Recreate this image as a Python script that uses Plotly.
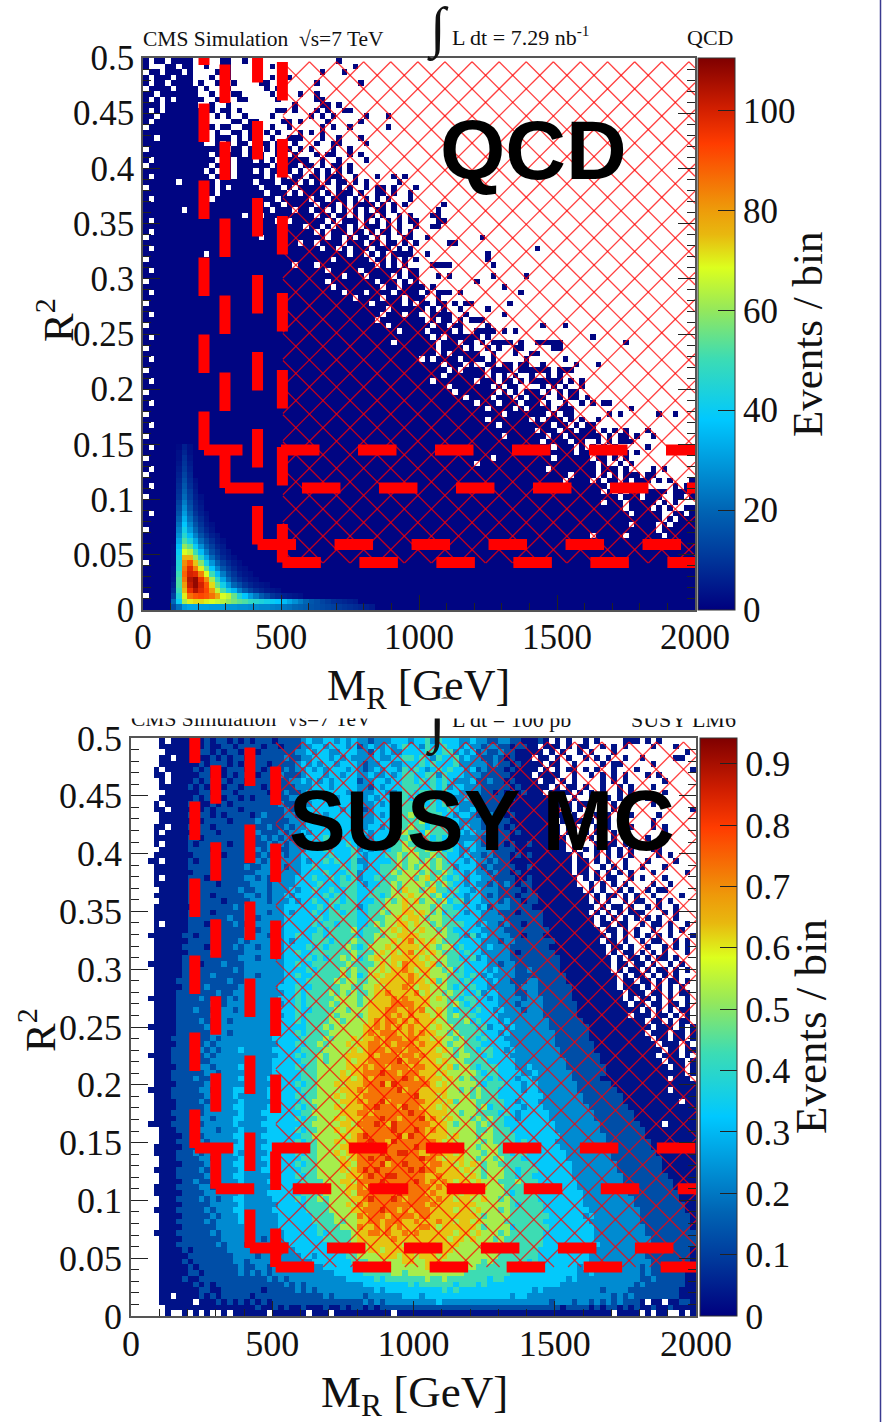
import plotly.graph_objects as go

W, H = 882, 1422
mr_ticks = [0, 500, 1000, 1500, 2000]
r2_ticks = [0, 0.05, 0.1, 0.15, 0.2, 0.25, 0.3, 0.35, 0.4, 0.45, 0.5]
r2_labels = ["0", "0.05", "0.1", "0.15", "0.2", "0.25", "0.3", "0.35", "0.4", "0.45", "0.5"]
qcd_bar_ticks = [0, 20, 40, 60, 80, 100]
susy_bar_ticks = [0, 0.1, 0.2, 0.3, 0.4, 0.5, 0.6, 0.7, 0.8, 0.9]
susy_bar_labels = ["0", "0.1", "0.2", "0.3", "0.4", "0.5", "0.6", "0.7", "0.8", "0.9"]

# QCD occupancy, top row first (R2 0.5 down to 0), 100 MR bins, spaces only group the bins: '#' low count, '.' empty
qcd_rows = """
#.##.####. ....##..#. .......... .....#....
#...##.##. .#..##.... ...#...... ........#.
.##.###.#. ...###.... .....#.... ..#...#...
#.###.###. ..#.##.... ...#..#... ..........
#.##.####. #..#..#... .##....... .#.......#
.####.#### .#...#.... ..#.##.... ..........
##.####### ..#.#.##.. ...#....#. .#........
#.#.#.#### #..##..##. ....#..... .##.......
###.###### ..#..#.... .......#.. ..##.#....
#.#.###### #.#.##.#.. ....##.#.. .#.#..##..
##.####### #..#.#..#. ...#...... #.#.#..... #...#
#.######## #.....##.# #....##.#. ...#.....#
.######### #.#.##..## ...#..#... ..#.#..#.. ....#
########## ##.#..##.# ..#.#...#. #.#.......
##.####### ##.###.#.# #..#..###. ..#..#...#
########## #..#.#.##. .##.#..#.. .#..##.... #
.######### #####.##.# #.#.###.#. #...#..#..
########## ##.#.###.# ##..##.#.. .#.##..#.#
#.######## ###.##.### .#.#..#### ..#..#....#
.######### ##.#.#.### ###.#.##.# #.#.##.#..
########## #.#.##.### .#.##.#.#. .#.#.#.#..
#.######## ##.###.### ##.#.#.##. ##.###..#. ..#..#.#..
######.### ###.###### .###.###.# .#.#.##.#. #.....#...
.######### ###.#.#### #.###.#.## ###..#.#.. #.##.#...#
########## ###.###### ##.###.#.# ##.#.###.# ..##.#..#.
#.######## ##.####### ####.##### .##.###.#. #.#.#...#.
########## ########## ##.##.#### #.###.#.## ##.#.#.#.. ....#
#######.## ########## ###.###.## .##.#.#.#. #.##.#.... ...#......
########## ########.# #.######## #.##.##.#. ##.#..#.#. ..##......
#.######## ########## ####.#.### ###.#.###. #.#.#.#.## ...##.....
########## ####.##### #########. ##.#.##.#. ###.#.#..# ..##......
#.######## ########## ########## #.#.###.## .#.##.#.#. ..........
.######### ########## #.######## ###.##.#.# #.#.#..##. .#........ .#........
########## ########## ########.# #.####.### .##.##.#.# .....##...
#.######## ########## ########## ##.##.#.## #.###.#.#. .......... .......... .#........
########## #.######## ########## #######.## .#.#.####. .#........ ..#.......
.######### ########## ########## ####.##### #.##.#.#.# .......... ..#.......
########## ########## #######.## #.######## ##.#.#.#.. ..####.... ...#......
#.######## ########## ########## ###.#####. #######.## .......... ..........
########## ########## ########## ######.### .####.#.## ...#.#.... ...#.....#
.######### ########## ########## ###.###### ##.###.#.# .......... #.........
########## ########## ########## ####.##### ###.##.### #.#....... .....#....
#.######## ########## ########## ######.### .####.#### .#.###.#.. ........#.
########## ########## ########## ########.# ###.###.## #..#...... ..........
.######### ########## ########## ########## #.#####.#. ##.##.#.## ......#...
########## ########## ########## ########## ####.##### #.#.#..#.. ..#.......
#.######## ########## ########## ########## ###.###.## ..####..#. .....#....
########## ########## ########## ########## ##.####### #.#.##.#.# ##........
.######### ########## ########## ########## ####.##### ##.##.##.. ..#....... ..#...#...
########## ########## ########## ########## ######.### #.####.#.. ####.#.#.. ..........
#.######## ########## ########## ########## ########## ##.#.##### #.#....... .......... .#........
########## ########## ########## ########## #####.#### ###.###.## .#.####.#. .#####.... .......#..
.######### ########## ########## ########## ########## ###.####.# ..#.#..##. ....##....
########## ########## ########## ########## ########## ###.#.#### #..#...#.. ##........
#.######## ########## ########## ########## ########## .#.####.## ##.#.....# ......#...
########## ########## ########## ########## ########## ####.###.# ..##.##.## ..#.....#. ..#.......
.######### ########## ########## ########## ########## #####.#.## ##.####.## ####.###..
########## ########## ########## ########## ########## ####.##### ##.#.#.#.. #..#.#....
#.######## ########## ########## ########## ########## ##.####### .###.##.#. ######.#.#
########## ########## ########## ########## ########## #####.#### ###.#.##.. ..#.#.#..#
.######### ########## ########## ########## ########## ######.### ####.#.#.# ##.#.#.##.
########## ########## ########## ########## ########## ########.# ###.###.#. ###..#.##. #
#.######## ########## ########## ########## ########## ########## .###.###.# ##.#..#..# .#.##.....
########## ########## ########## ########## ########## ########## ##.####.#. ####.###.. ........#.
.######### ########## ########## ########## ########## ########## #####.#### ###.#.##.. ....#.#... ...#..#...
########## ########## ########## ########## ########## ########## ##.####### .#.###.#.# ..#.......
#.######## ########## ########## ########## ########## ########## ####.##### ####.##.#. ##........
########## ########## ########## ########## ########## ########## ########## #.###.##.# ##.#.#.#.. .#........
.######### ########## ########## ########## ########## ########## #####.#### ###.##.### ###.#.##.# ..#.......
########## ########## ########## ########## ########## ########## ########## ##.####.## ..#.#.###.
#.######## ########## ########## ########## ########## ########## ########## ####.###.# .#.#.#.... .#........
########## ########## ########## ########## ########## ########## ########## ########.# ####.#.#.#
.######### ########## ########## ########## ########## ########## ###.###### ####.##### #.##.#.#..
########## ########## ########## ########## ########## ########## .######### ########## ##.#..#.#.
#.######## ########## ########## ########## ########## ########## ########## ###.###### ##.###.#.. ..#.#.....
.######### ########## ########## ########## ########## ########## ########## #######.## ##.#.#.### .##.......
########## ########## ########## ########## ########## ########## ########## ######.### #.#.##.#.# ##.#.#...#
#.######## ########## ########## ########## ########## ########## ########## ########## ####.#.### #.....#.##
########## ########## ########## ########## ########## ########## ########## ########## ###.#.#.## .####.####
.######### ########## ########## ########## ########## ########## ########## ########## ######.### .###..##.#
########## ########## ########## ########## ########## ########## ########## ########## ###.###.## ###.#.#...
########## ########## ########## ########## ########## ########## ########## ########## #######.## ##.#.#..##
#.######## ########## ########## ########## ########## ########## ########## ########## ########.# ####..##.#
########## ########## ########## ########## ########## ########## ########## ########## ########## ####.#.###
########## ########## ########## ########## ########## ########## ########## ########## ########.# ###.#.####
.######### ########## ########## ########## ########## ########## ########## ########## ########## ###.######
########## ########## ########## ########## ########## ########## ########## ########## #.#####.## ####.#####
########## ########## ########## ########## ########## ########## ########## ########## ########## ##########
########## ########## ########## ########## ########## ########## ########## ########## ########## ##########
########## ########## ########## ########## ########## ########## ########## ########## ########## ##########
########## ########## ########## ########## ########## ########## ########## ########## ########## ##########
.######### ########## ########## ########## ########## ########## ########## ########## ########## ##########
########## ########## ########## ########## ########## ########## ########## ########## ########## ##########
########## ########## ########## ########## ########## ########## ########## ########## ########## ##########
########## ########## ########## ########## ########## ########## ########## ########## ########## ##########
########## ########## ########## ########## ########## ########## ########## ########## ########## ##########
########## ########## ########## ########## ########## ########## ########## ########## ########## ##########
.######### ########## ########## ########## ########## ########## ########## ########## ########## ##########
########## ########## ########## ########## ########## ########## ########## ########## ########## ##########
########## ########## ########## ########## ########## ########## ########## ########## ########## ##########
""".strip().splitlines()

# QCD events per bin in the bright corner: row = R2 bin from 0 upward, first value = MR bin 5
qcd_peak_rows = [
    [14, 22, 30, 32, 32, 31, 31, 30, 30, 30, 29, 29, 28, 28, 27, 27, 26, 26, 25, 24, 23, 22, 20, 19, 18, 16, 15, 14, 13, 12, 11, 10, 9, 8, 7, 6, 5],
    [20, 40, 62, 70, 72, 72, 70, 68, 66, 64, 60, 57, 54, 52, 48, 46, 44, 42, 40, 38, 36, 32, 28, 24, 20, 17, 15, 13, 11, 9, 8, 7, 6, 5],
    [12, 45, 70, 86, 90, 92, 90, 86, 78, 68, 65, 55, 45, 38, 30, 24, 18, 14, 10, 8, 6, 5, 4, 3],
    [8, 50, 75, 96, 104, 98, 92, 80, 65, 52, 42, 35, 25, 18, 13, 9, 7, 5, 4, 3],
    [6, 52, 80, 102, 108, 100, 90, 72, 55, 42, 30, 20, 15, 10, 7, 5, 4, 3],
    [4, 52, 85, 104, 108, 96, 82, 62, 47, 32, 21, 13, 9, 6, 4, 3],
    [3, 50, 88, 100, 98, 84, 68, 50, 36, 24, 15, 10, 6, 4, 3],
    [3, 46, 85, 98, 84, 70, 54, 38, 26, 17, 11, 7, 4, 3],
    [2, 45, 82, 90, 74, 58, 42, 29, 19, 12, 8, 5, 3],
    [2, 42, 76, 76, 60, 46, 32, 21, 13, 8, 5, 3],
    [2, 40, 68, 64, 50, 36, 24, 15, 10, 6, 4],
    [2, 36, 60, 54, 40, 28, 18, 12, 7, 5],
    [1, 32, 52, 44, 32, 21, 14, 9, 5, 3],
    [1, 28, 46, 36, 25, 16, 10, 6, 4],
    [1, 25, 42, 30, 20, 12, 7, 4],
    [1, 22, 38, 26, 16, 10, 5, 3],
    [1, 19, 34, 22, 13, 8, 4],
    [1, 16, 30, 19, 10, 6, 3],
    [1, 14, 27, 16, 8, 5],
    [1, 12, 24, 14, 7, 4],
    [1, 10, 21, 12, 6, 3],
    [1, 9, 19, 11, 5],
    [1, 8, 17, 9, 4],
    [1, 7, 15, 8, 3],
    [1, 6, 13, 7],
    [1, 5, 11, 6],
    [1, 4, 10, 5],
    [1, 3, 9, 4],
    [1, 3, 7, 3],
    [1, 2, 6, 3],
]

# SUSY events per bin in tenths (digit d reads as d/10 + 0.03), top row first; '.' empty. 10 groups of 10 MR bins.
susy_rows = """
.....0.000 0001011010 1011101111 2322332323 2212223332 3342433322 3221122110 0010.0.0.. 0.0....000 .0.0......
.....00000 0101001101 1110110111 2233233323 1232232343 3243343323 2212211011 00.000.0.0 0..0.0.0.. ..0...0...
......0000 0011010110 1101111112 2323322333 2213232233 3344344232 3121121100 000.0.0..0 .0...0.... ........0.
.....00.00 0100101011 0111111211 2233323232 2223223344 3432433423 2211210100 0.00.0.0.. 0.0.0..0.. 0.....00..
.....00000 0010111010 1111011112 3232332333 2122332233 3434333422 2221211010 000.00..0. ...0.00... ..0.......
....0.0000 0101010111 0110111212 2323233323 2123233243 4323434332 3121110100 00.0.0.00. 0.0..0...0 .........0
....00.000 0011010101 1101112111 2333233233 2232232344 3344243332 2211111000 0.0000..0. .0.0.0.0.. .0.0......
.....0.000 0101101011 0111111122 3232323333 1223323344 3434343222 3112110100 00.00.0.0. ...0.0.0.. ....0.....
.....00000 1010110110 1110111112 2233323333 2213233344 4334342332 2211111010 0000.0.00. 0..0..0.0. ..0.......
......0000 0011011101 1111011211 2323333323 2223322344 3444343322 2211010101 000.0000.0 .0.0..0.0. ....0.....
.....00000 0101110110 1011111122 2333232333 1232333443 4344343223 2111110100 0000.00.0. .0..0.0.0. .0........
....0.0000 1100101011 1111112112 3233323334 2223233344 4434343322 2211111000 0000.000.0 0..0.0.... ..0.0.....
....00.000 0101011110 1111111212 2333333233 2123333444 3544334322 3121101000 000000.0.0 .0.0.0.0.. .........0
.....00000 1011010111 1012111221 3233233334 2223234345 4344433233 2112110100 0000.00.0. ..0.0.0.0. ...0......
.....00000 0101111011 1121111122 2333333333 2223333444 4534343322 2211111000 00000.0.00 .0..0.0... ..0.......
....00.000 1011011111 1111211212 2333323334 2233234445 4434443323 2212110100 000000.00. 0.0.0...0. ..0.0.....
....0.0000 0111101111 1121112122 3233333334 2323333454 4354443332 3221111010 000000.00. 0.0..0.0.. ....0.....
....000000 1101111111 1112121212 2333433333 2223334445 5443434322 2212111000 0000000.0. .0.0.0.0.. .0..0.....
....0.0000 1011111011 1211212122 3333333343 2233344454 4544443323 3212110100 1000000.00 ..0.00.0.. ..0.......
.....00000 1111011111 1121221122 2333433334 2323334455 4454534322 3222111100 0000000.0. 0.0.0.0.0. ..00......
....000000 0111110111 1212122122 3333343334 3233344545 5445443323 2212111010 10000000.0 ..0.0.0.0. ...0.0....
...00.0000 1011111111 1121212222 3233434334 2233334545 5454543332 3221211000 00000000.0 0.0.0..0.. .0....0...
....000000 1111101111 2112222122 3343333434 3233444545 4554544233 3212111100 10000000.0 0..0.0.0.. 0...0.....
....000000 0111111111 1122212222 3333433344 2333445455 5454454332 3221211010 00000000.0 0.0.0.0.0. ..0.....0.
....0.0000 1110111111 2212122223 3343343434 2334344555 4564543432 3322111100 100000000. 0.0.00..0. 0...0.....
....000000 1111101111 1222122223 3334333444 3233445455 5545454332 3221212101 100000000. .0.0.0.0.. ..0..0....
.....00000 1011111112 1122122232 3343343344 3334445465 5456443433 2322211110 1000000000 .0.0..0.0. .0.00.....
....000000 1111011111 2212122323 3333434344 3344345556 5554534332 3321211101 1100000000 0.0.00.0.0 ..0....0..
.....00000 1111110111 1222122232 3343344344 3334454565 6455453442 3322212110 1100000000 0.0.0..0.0 0..0.0....
....000000 0111111121 2122222333 3334343444 2344455565 5554544333 3231222111 1000000000 00.0.00.0. .0.0..0...
....000000 1111011111 2222122323 3343344344 3344545566 5654534432 3322211101 1110000000 0.0.0.0.00 0...0.0...
....000000 1111111211 2212222333 3334344444 3344455656 6545544333 3322221111 1110000000 00.0.0.0.0 .0.0..0...
....0.0000 1110111121 1222222333 3343443444 3345455665 6554544443 3232212110 1110000000 00.00.00.. 0.00.0..0.
....000000 1111111111 2212222333 3334344445 3444556565 5655454333 3322221111 1111000000 000.00.0.0 ..0..0.0..
...0000001 1011121111 2222122334 3344344444 3445455666 6555554432 4232222110 1110000000 0000.0.0.0 .0.0.0...0
....000000 1111111112 1222222323 3344434445 4445556567 5656544433 3322212211 1111100000 000.00.0.. 0.00..0.0.
....000001 1110111121 2212222333 3434344454 3455565666 6565455343 3323222111 1111000000 0000.00.0. .0..0.0.0.
....000000 1111211111 2222222334 3344444445 4445656567 5656544434 3322222101 1111100000 0000.0.00. 0.0.0...0.
....000001 1111111112 2212222333 3434344545 3456556666 6565554433 4232222111 1111110000 00000.0.00 .0.00.0...
...0000001 1101112111 2222222334 3344444454 4445656576 6656454443 3332212211 1111110000 00000.00.0 0.0..0.0..
....000001 1111111121 2222222333 3434444545 4455656676 5665545343 3332322211 2111110000 00000.0.00 .0.00.0.0.
....000001 1111211111 2212222334 3344444545 3456566667 6565554443 4323222211 1111111000 000000.0.0 0.0.0.0...
....000011 1111111211 2222222333 3444445455 4455666667 6656454434 3332322111 2211111000 000000.00. 00.0.00.0.
....000001 1112111112 2222223334 3344444554 4556566676 5665554343 4332222212 2211111100 000000.000 .0.0.0.0..
....000011 1111121122 2222222334 3444454545 4456676666 7565545443 3423322211 2211111100 0000000.00 0.00.0.00.
...0000011 1121111212 2222223334 3444445555 4556667676 6665654434 4332322221 2221111100 0000000.0. 00.0.0..0.
....000011 1111211222 2222222334 3444454555 4566667777 6665554543 4333322212 2221111110 00000000.0 0.00.00.0.
....000011 1211112212 2222223334 3344445545 5566677667 6755654344 3433232221 2221111110 0000000000 .0.0.0.00.
....000011 1111212222 2222222334 3444454555 4566676767 6665654544 4333322222 2221111110 00000000.0 00.00.0.0.
....000011 1121122122 2222233334 3444455455 5567677676 7666554445 3433323222 2222111111 0000000000 0.00.0.00.
...0000011 1112112222 2222223333 3444545555 5667676767 6665655444 4342332322 2222111111 1000000000 00.000.0.0
....000011 1111222122 2222223334 3444455555 5676777667 6766554544 4433323222 2222211111 1000000000 0.000.00.0
....000111 1211212222 2222233333 4444545556 5667677767 7665655454 4343332222 2222211111 1000000000 00.00.00.0
....000011 1112122222 2222223334 3445455565 6677676777 6766654554 4433333222 2222211111 1100000000 000.000.0.
....000111 1121212223 2222233333 4444555556 5677767767 7666565454 4344332322 2222221111 1100000000 0000.00.00
...0000111 1112122222 2222223334 3445455566 6676777677 6766655455 4434333222 2222221111 1110000000 000.000.0.
....000111 1211222222 2222233333 4445455565 6677777867 7666565554 4443333322 2222222111 1110000000 0000.000.0
....000011 1122122223 2222233334 3445555566 6767767776 7766656455 4344433322 3222222111 1111000000 00000.00.0
....000111 1112212222 2222233333 4445555656 6777877677 7666565555 5434433332 2322222211 1111000000 00000000.0
....000111 1211222223 2222333333 4445555665 6767777787 6766656545 4443433323 3222222211 1110000000 00000.000.
....000011 1112222222 2222233334 3445556566 6777868777 7776565555 5434443332 3322222221 1111100000 0000000000
...0000111 1122122233 2222333333 4445555666 7677777867 7666665545 4544433332 3322222221 1111110000 00000.0000
....000111 1112222232 2222333334 3445556566 6777777777 8666565555 4544433333 3332222222 1111111000 0000000000
....000011 1121222223 2222233333 4455555666 7677867777 7766656455 5444443323 3322222222 1111111000 0000000.00
....000011 1112222233 2222333334 3445556566 6778777687 7666565555 5453443332 3332222222 2111111100 0000000000
....000111 1212222223 2223333333 4455555666 7767777778 7766665545 5444434323 3333222222 2211111110 0000000000
....000011 1122122233 2222333334 3445556566 6777877677 7867656555 4545443323 3333222222 2211111110 0000000000
...0000111 1112222232 2223333333 4455555665 7778768777 7776665455 5454443333 3333322222 2221111111 0000.00000
.....00011 1122212223 2222333334 3445556566 6777778777 8767665555 5445444333 3333322222 2221111111 1000000000
.....00001 1112222233 2223333333 4455555656 7877777868 7766665655 5455444433 3333332222 2222111111 1000000000
.....00011 1121222223 2222333334 3445556566 7787768777 7777656555 5545444434 3333322222 2222111111 1100000000
....000001 1112222233 2223333333 4445555665 6778877777 8776665665 5455544443 3333332222 2222211111 1100000000
....000011 1212222232 2222333334 3445556566 7777877887 7667766565 5545544344 3333333222 2222211111 1110000000
.....00011 1122122223 2223333333 4445555656 7787787777 7877656665 5455454443 3333333222 2222211111 1111000000
.....00001 1112222233 2222333334 3445555665 7777867787 7767766565 6545544444 4333333322 2222221111 1111000000
....000011 1121222223 2223333333 4445555656 7878777778 7877666656 5545554434 4433333322 2222221111 1111000000
.....00011 1112222233 2222233334 3445555566 6787788777 7766766665 6545554434 4333333322 2222222111 1111100000
.....00001 1211222223 2222333333 4444555665 7777877777 8767676566 5655544454 4433333332 2222222111 1111110000
....000011 1122122233 2222233334 3445455566 7687787877 7776766665 5565554444 4433333332 2222222211 1111110000
....000001 1112222223 2222333333 4444555565 7777777877 7767666656 6555554344 4433333333 2222222211 1111111000
.....00011 1121212233 2222233334 3445455556 6787778767 7776766566 5565545444 4433333333 2222222221 1111111000
.....00001 1111222223 2222223333 3444455565 7677777777 7767666666 6555555434 4443333333 2222222221 1111111100
....000011 1112122233 2222233333 3444455556 6777877676 7776666566 5655545444 4443333333 3222222222 1111111100
.....00001 1111212223 2222223333 3344445555 7677767777 6776666666 6545555444 4444333333 2322222222 1111111110
.....00011 1112122223 2122223333 3344445455 6677677766 7666766566 5655554444 4443333333 3222222222 1111111110
.....00001 1111122222 2222223333 3334444555 7667676766 6776566666 6545555344 4444333333 3322222222 2111111110
....000011 1111212222 2122222333 3334344445 6677676676 7666666566 5655545444 4443333333 3322222222 2111111111
.....00001 1111112222 2221222333 3333444445 6666667666 6666665665 6555454444 4443333333 3322222222 2211111111
.....00011 1111121222 1222222233 3333344445 6566666656 6666566655 5565554444 4443333333 3332222222 2211111111
.....00001 0111111222 2122222223 3333334444 5566566666 6656666555 5555454444 4433333333 3322222222 2111111110
.....00000 1111111122 2212222222 3323333344 5555666566 5666565555 5555544444 4433333333 3222222222 2111111110
.....00001 0111111122 1222212222 2233333334 4455555566 5566655555 5545444444 3433333333 3222222222 2211111110
.....00000 1011111112 1122122222 2222333333 4444555555 5565555555 5444444443 3433333332 3222222222 1211111100
.....00000 1101111112 1212122222 2222223333 3444445545 5555555554 4444444333 3333333332 2322222222 1211111100
.....00001 0011111111 1111212122 2222222233 3334344444 4454454444 4443443333 3333333232 2222222222 1121111100
.....00000 0101011111 1111111212 1222222222 2333333334 3444444344 4343333333 3333332222 2222222221 2111111100
.....00000 0011001111 1110111112 1212222222 2223233333 3333343433 3333333333 3232222222 2221222211 1111111000
.....00.00 0010101111 1011111111 1111212222 2122222233 3233333333 3333333233 2222222222 2222212121 1111111000
.....00000 0.00010101 0101011111 1111111111 1212122222 2222322222 2222222222 2222122212 2121212111 0.00.00110
......0000 0000000000 0010010100 1000100101 1010111111 1111111111 1111111111 1111110111 1010110101 0010010000
......0..0 .0.0..0.00 0000.00000 0.000.0000 000000.000 0000000000 0000000000 0000000000 00000.0000 .0.00..0.0
""".strip().splitlines()

qcd_boxes = [(221, 0.145), (297, 0.1105), (415, 0.0593), (505, 0.043)]
susy_boxes = [(226, 0.1453), (300, 0.110), (421, 0.0588), (512, 0.0424)]

rainbow = [[0, "#00007f"], [0.1, "#003a9c"], [0.18, "#0064b4"], [0.345, "#00c8ff"], [0.455, "#3cdcb4"],
           [0.545, "#96e85a"], [0.62, "#dcff1e"], [0.68, "#e8b80f"], [0.727, "#ee9a0a"], [0.845, "#ff3c00"],
           [0.91, "#d01e00"], [1, "#7f0000"]]
SERIF = "Liberation Serif"

def px(x): return x / W
def py(y): return 1 - y / H

def parse(rows):
    return [r.replace(" ", "").ljust(100, ".")[:100] for r in rows]

qcd_z = [[None if c == "." else 1 for c in r] for r in reversed(parse(qcd_rows))]
for i, vals in enumerate(qcd_peak_rows):
    for j, v in enumerate(vals):
        qcd_z[i][5 + j] = v
susy_z = [[None if c == "." else int(c) * 0.1 + 0.03 for c in r] for r in reversed(parse(susy_rows))]

def panel(fig, n, z, zmax, x0, x1, y0, y1, cb_x, bar_ticks, bar_labels, boxes, hatch, font):
    xa, ya = ("x", "y") if n == 1 else (f"x{n}", f"y{n}")
    nr, nc = len(z), len(z[0])
    fig.add_trace(go.Heatmap(
        z=z, x0=1000 / nc, dx=2000 / nc, y0=0.25 / nr, dy=0.5 / nr, xaxis=xa, yaxis=ya, zmin=0, zmax=zmax,
        colorscale=rainbow, hoverinfo="skip",
        colorbar=dict(x=cb_x / W, xanchor="left", xpad=0, ypad=0, y=py(y0), yanchor="top", lenmode="pixels",
                      len=y1 - y0, thicknessmode="pixels", thickness=37, ticks="inside", ticklen=17, tickcolor="#222",
                      tickvals=bar_ticks, ticktext=bar_labels, outlinecolor="#333", outlinewidth=1,
                      tickfont=dict(family=SERIF, size=font, color="#111"))))
    xmin, xmax, ymin, ymax, xv, yv, sx, sy = hatch
    hx, hy = [], []
    for sign in (1, -1):
        for k in range(-60, 60):
            pts = []
            for x in (xmin, xmax):
                pts.append((x, yv + sy * (sign * (x - xv) / sx + k)))
            for y in (ymin, ymax):
                pts.append((xv + sign * sx * ((y - yv) / sy - k), y))
            pts = [p for p in pts if xmin - 1e-9 <= p[0] <= xmax + 1e-9 and ymin - 1e-9 <= p[1] <= ymax + 1e-9]
            if len(pts) >= 2:
                hx += [pts[0][0], pts[1][0], None]
                hy += [pts[0][1], pts[1][1], None]
    fig.add_trace(go.Scatter(x=hx, y=hy, xaxis=xa, yaxis=ya, mode="lines", showlegend=False, hoverinfo="skip",
                             line=dict(color="rgba(255,0,0,0.75)", width=1.3)))
    for cx, cy in boxes:
        for xs, ys in (([cx, cx], [cy, 0.5]), ([cx, 2000], [cy, cy])):
            fig.add_trace(go.Scatter(x=xs, y=ys, xaxis=xa, yaxis=ya, mode="lines", showlegend=False, hoverinfo="skip",
                                     line=dict(color="#ff0000", width=11, dash="38.5px,38.5px")))
    fig.update_layout({
        ("xaxis" if n == 1 else f"xaxis{n}"): dict(
            domain=[px(x0), px(x1)], range=[0, 2000], anchor=ya, tickvals=mr_ticks, ticktext=[str(t) for t in mr_ticks],
            ticks="inside", ticklen=15, tickcolor="#222", showgrid=False, zeroline=False, showline=True, mirror=True,
            linecolor="#555", linewidth=1.5, tickfont=dict(family=SERIF, size=font, color="#111"), ticklabelstandoff=-5,
            minor=dict(dtick=100, ticks="inside", ticklen=7, tickcolor="#222", showgrid=False), layer="above traces"),
        ("yaxis" if n == 1 else f"yaxis{n}"): dict(
            domain=[py(y1), py(y0)], range=[0, 0.5], anchor=xa, tickvals=r2_ticks, ticktext=r2_labels,
            ticks="inside", ticklen=17, tickcolor="#222", showgrid=False, zeroline=False, showline=True, mirror="ticks",
            linecolor="#555", linewidth=1.5, tickfont=dict(family=SERIF, size=font, color="#111"),
            minor=dict(dtick=0.01, ticks="inside", ticklen=8, tickcolor="#222", showgrid=False), layer="above traces"),
    })

fig = go.Figure()
panel(fig, 1, qcd_z, 110.5, 143, 695, 58, 610, 698, qcd_bar_ticks, [str(t) for t in qcd_bar_ticks],
      qcd_boxes, (507, 2000, 0.0426, 0.4966, 1094, 0.4966, 98.2, 0.02455), 35)
panel(fig, 2, susy_z, 0.942, 131, 696, 738, 1316, 700, susy_bar_ticks, susy_bar_labels,
      susy_boxes, (513, 2000, 0.0424, 0.4965, 1763, 0.4965, 96.3, 0.0236), 36)

def note(text, x, y, size, angle=0, anchor="center", family=SERIF, color="#111", weight=None, **kw):
    fig.add_annotation(text=text, x=x / W, y=py(y), xref="paper", yref="paper", showarrow=False, textangle=angle,
                       xanchor=anchor, yanchor="middle", font=dict(family=family, size=size, color=color, weight=weight), **kw)

note("CMS Simulation  √s=7 TeV", 141, 39, 21.5, anchor="left")
note("∫", 438, 29, 56)
note("L dt = 7.29 nb<sup>-1</sup>", 450, 36, 22, anchor="left")
note("QCD", 735, 37, 22, anchor="right")
note("CMS Simulation  √s=7 TeV", 129, 719, 21.5, anchor="left")
note("∫", 437, 722, 60)
note("L dt = 100 pb<sup>-1</sup>", 450, 718, 22, anchor="left")
note("SUSY LM6", 738, 719, 22, anchor="right")
note(" ", 438, 708, 10, width=876, height=17, bgcolor="white")
note("M<sub>R</sub> [GeV]", 418, 688, 44)
note("R<sup>2</sup>", 55, 320, 43, angle=-90)
note("Events / bin", 808, 335, 43, angle=-90)
note("M<sub>R</sub> [GeV]", 414, 1395, 45)
note("R<sup>2</sup>", 37, 1030, 43, angle=-90)
note("Events / bin", 811, 1027, 45, angle=-90)
note("QCD", 533, 150, 84, family="Liberation Sans", color="#000", weight="bold")
note("SUSY MC", 482, 820, 85, family="Liberation Sans", color="#000", weight="bold")

fig.add_shape(type="line", xref="paper", yref="paper", x0=880.5 / W, x1=880.5 / W, y0=0, y1=1,
              line=dict(color="#3a3a8f", width=1.5))
fig.update_layout(width=W, height=H, margin=dict(l=0, r=0, t=0, b=0, autoexpand=False), paper_bgcolor="white",
                  plot_bgcolor="white", showlegend=False)
fig.write_html("out.html", config={"displayModeBar": False},
               post_script="document.body.style.margin='0';document.body.style.overflow='hidden';")
